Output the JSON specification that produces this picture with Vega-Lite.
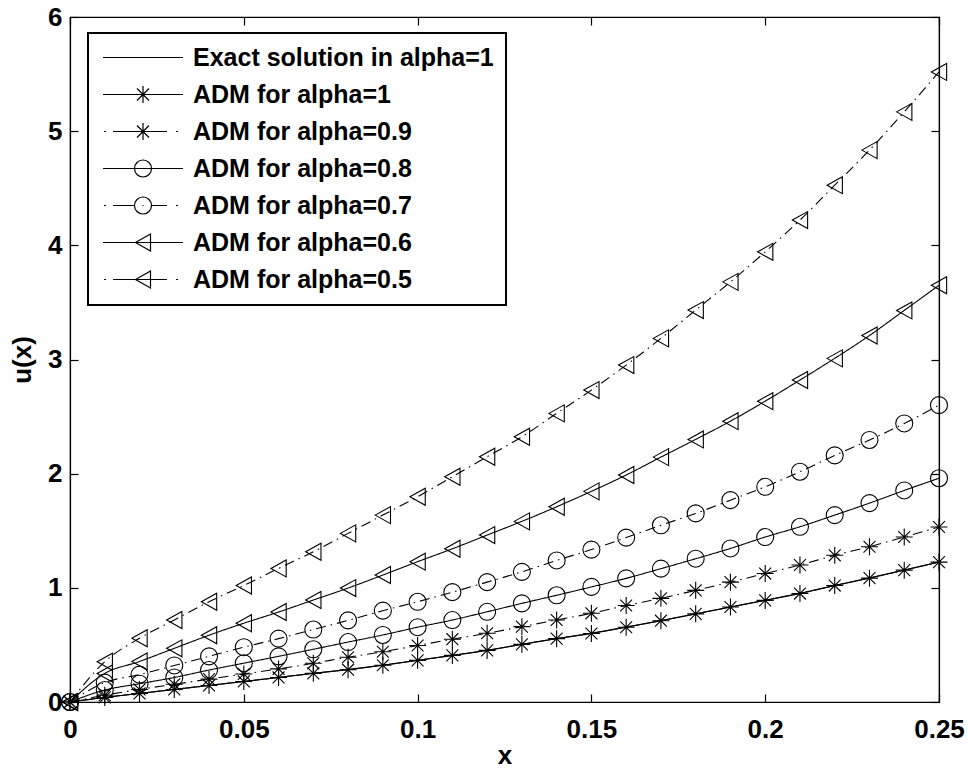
{
  "$schema": "https://vega.github.io/schema/vega-lite/v6.json",
  "width": 869,
  "height": 685,
  "autosize": "none",
  "padding": {"left": 70, "top": 17, "right": 29, "bottom": 69},
  "background": "white",
  "config": {
    "view": {"stroke": "black", "strokeWidth": 1.2},
    "axis": {
      "labelFont": "Liberation Sans", "labelFontSize": 26, "labelFontWeight": "bold", "labelColor": "black",
      "titleFont": "Liberation Sans", "titleFontSize": 26, "titleFontWeight": "bold", "titleColor": "black",
      "tickColor": "black", "domainColor": "black", "domainWidth": 1.2, "tickSize": -8, "tickWidth": 1.2,
      "grid": false, "labelFlush": false, "labelOverlap": false
    },
    "legend": {
      "orient": "none", "legendX": 18, "legendY": 16, "direction": "vertical",
      "symbolSize": 400, "symbolStrokeWidth": 1.2, "symbolStrokeColor": "black", "symbolFillColor": "transparent", "symbolOpacity": 1,
      "labelFont": "Liberation Sans", "labelFontSize": 25, "labelFontWeight": "bold", "labelColor": "black", "labelLimit": 500,
      "labelOffset": 68, "rowPadding": 11, "padding": 12, "strokeColor": "black", "strokeWidth": 2, "fillColor": "white"
    }
  },
  "datasets": {
    "d": [
      {"x": 0, "u": 0, "s": "Exact solution in alpha=1"},
      {"x": 0.01, "u": 0.04, "s": "Exact solution in alpha=1"},
      {"x": 0.02, "u": 0.075, "s": "Exact solution in alpha=1"},
      {"x": 0.03, "u": 0.11, "s": "Exact solution in alpha=1"},
      {"x": 0.04, "u": 0.145, "s": "Exact solution in alpha=1"},
      {"x": 0.05, "u": 0.18, "s": "Exact solution in alpha=1"},
      {"x": 0.06, "u": 0.215, "s": "Exact solution in alpha=1"},
      {"x": 0.07, "u": 0.251, "s": "Exact solution in alpha=1"},
      {"x": 0.08, "u": 0.285, "s": "Exact solution in alpha=1"},
      {"x": 0.09, "u": 0.323, "s": "Exact solution in alpha=1"},
      {"x": 0.10, "u": 0.365, "s": "Exact solution in alpha=1"},
      {"x": 0.11, "u": 0.408, "s": "Exact solution in alpha=1"},
      {"x": 0.12, "u": 0.453, "s": "Exact solution in alpha=1"},
      {"x": 0.13, "u": 0.505, "s": "Exact solution in alpha=1"},
      {"x": 0.14, "u": 0.555, "s": "Exact solution in alpha=1"},
      {"x": 0.15, "u": 0.603, "s": "Exact solution in alpha=1"},
      {"x": 0.16, "u": 0.657, "s": "Exact solution in alpha=1"},
      {"x": 0.17, "u": 0.713, "s": "Exact solution in alpha=1"},
      {"x": 0.18, "u": 0.772, "s": "Exact solution in alpha=1"},
      {"x": 0.19, "u": 0.832, "s": "Exact solution in alpha=1"},
      {"x": 0.20, "u": 0.892, "s": "Exact solution in alpha=1"},
      {"x": 0.21, "u": 0.953, "s": "Exact solution in alpha=1"},
      {"x": 0.22, "u": 1.02, "s": "Exact solution in alpha=1"},
      {"x": 0.23, "u": 1.087, "s": "Exact solution in alpha=1"},
      {"x": 0.24, "u": 1.156, "s": "Exact solution in alpha=1"},
      {"x": 0.25, "u": 1.226, "s": "Exact solution in alpha=1"},
      {"x": 0, "u": 0, "s": "ADM for alpha=1"},
      {"x": 0.01, "u": 0.04, "s": "ADM for alpha=1"},
      {"x": 0.02, "u": 0.075, "s": "ADM for alpha=1"},
      {"x": 0.03, "u": 0.11, "s": "ADM for alpha=1"},
      {"x": 0.04, "u": 0.145, "s": "ADM for alpha=1"},
      {"x": 0.05, "u": 0.18, "s": "ADM for alpha=1"},
      {"x": 0.06, "u": 0.215, "s": "ADM for alpha=1"},
      {"x": 0.07, "u": 0.251, "s": "ADM for alpha=1"},
      {"x": 0.08, "u": 0.283, "s": "ADM for alpha=1"},
      {"x": 0.09, "u": 0.322, "s": "ADM for alpha=1"},
      {"x": 0.10, "u": 0.365, "s": "ADM for alpha=1"},
      {"x": 0.11, "u": 0.408, "s": "ADM for alpha=1"},
      {"x": 0.12, "u": 0.452, "s": "ADM for alpha=1"},
      {"x": 0.13, "u": 0.505, "s": "ADM for alpha=1"},
      {"x": 0.14, "u": 0.555, "s": "ADM for alpha=1"},
      {"x": 0.15, "u": 0.60, "s": "ADM for alpha=1"},
      {"x": 0.16, "u": 0.655, "s": "ADM for alpha=1"},
      {"x": 0.17, "u": 0.712, "s": "ADM for alpha=1"},
      {"x": 0.18, "u": 0.772, "s": "ADM for alpha=1"},
      {"x": 0.19, "u": 0.832, "s": "ADM for alpha=1"},
      {"x": 0.20, "u": 0.89, "s": "ADM for alpha=1"},
      {"x": 0.21, "u": 0.95, "s": "ADM for alpha=1"},
      {"x": 0.22, "u": 1.02, "s": "ADM for alpha=1"},
      {"x": 0.23, "u": 1.085, "s": "ADM for alpha=1"},
      {"x": 0.24, "u": 1.155, "s": "ADM for alpha=1"},
      {"x": 0.25, "u": 1.225, "s": "ADM for alpha=1"},
      {"x": 0, "u": 0, "s": "ADM for alpha=0.9"},
      {"x": 0.01, "u": 0.06, "s": "ADM for alpha=0.9"},
      {"x": 0.02, "u": 0.11, "s": "ADM for alpha=0.9"},
      {"x": 0.03, "u": 0.155, "s": "ADM for alpha=0.9"},
      {"x": 0.04, "u": 0.2, "s": "ADM for alpha=0.9"},
      {"x": 0.05, "u": 0.245, "s": "ADM for alpha=0.9"},
      {"x": 0.06, "u": 0.29, "s": "ADM for alpha=0.9"},
      {"x": 0.07, "u": 0.339, "s": "ADM for alpha=0.9"},
      {"x": 0.08, "u": 0.392, "s": "ADM for alpha=0.9"},
      {"x": 0.09, "u": 0.44, "s": "ADM for alpha=0.9"},
      {"x": 0.10, "u": 0.495, "s": "ADM for alpha=0.9"},
      {"x": 0.11, "u": 0.55, "s": "ADM for alpha=0.9"},
      {"x": 0.12, "u": 0.602, "s": "ADM for alpha=0.9"},
      {"x": 0.13, "u": 0.66, "s": "ADM for alpha=0.9"},
      {"x": 0.14, "u": 0.718, "s": "ADM for alpha=0.9"},
      {"x": 0.15, "u": 0.777, "s": "ADM for alpha=0.9"},
      {"x": 0.16, "u": 0.845, "s": "ADM for alpha=0.9"},
      {"x": 0.17, "u": 0.908, "s": "ADM for alpha=0.9"},
      {"x": 0.18, "u": 0.978, "s": "ADM for alpha=0.9"},
      {"x": 0.19, "u": 1.05, "s": "ADM for alpha=0.9"},
      {"x": 0.20, "u": 1.125, "s": "ADM for alpha=0.9"},
      {"x": 0.21, "u": 1.2, "s": "ADM for alpha=0.9"},
      {"x": 0.22, "u": 1.285, "s": "ADM for alpha=0.9"},
      {"x": 0.23, "u": 1.36, "s": "ADM for alpha=0.9"},
      {"x": 0.24, "u": 1.445, "s": "ADM for alpha=0.9"},
      {"x": 0.25, "u": 1.533, "s": "ADM for alpha=0.9"},
      {"x": 0, "u": 0, "s": "ADM for alpha=0.8"},
      {"x": 0.01, "u": 0.105, "s": "ADM for alpha=0.8"},
      {"x": 0.02, "u": 0.16, "s": "ADM for alpha=0.8"},
      {"x": 0.03, "u": 0.215, "s": "ADM for alpha=0.8"},
      {"x": 0.04, "u": 0.28, "s": "ADM for alpha=0.8"},
      {"x": 0.05, "u": 0.34, "s": "ADM for alpha=0.8"},
      {"x": 0.06, "u": 0.4, "s": "ADM for alpha=0.8"},
      {"x": 0.07, "u": 0.462, "s": "ADM for alpha=0.8"},
      {"x": 0.08, "u": 0.525, "s": "ADM for alpha=0.8"},
      {"x": 0.09, "u": 0.587, "s": "ADM for alpha=0.8"},
      {"x": 0.10, "u": 0.655, "s": "ADM for alpha=0.8"},
      {"x": 0.11, "u": 0.718, "s": "ADM for alpha=0.8"},
      {"x": 0.12, "u": 0.79, "s": "ADM for alpha=0.8"},
      {"x": 0.13, "u": 0.864, "s": "ADM for alpha=0.8"},
      {"x": 0.14, "u": 0.935, "s": "ADM for alpha=0.8"},
      {"x": 0.15, "u": 1.008, "s": "ADM for alpha=0.8"},
      {"x": 0.16, "u": 1.083, "s": "ADM for alpha=0.8"},
      {"x": 0.17, "u": 1.168, "s": "ADM for alpha=0.8"},
      {"x": 0.18, "u": 1.255, "s": "ADM for alpha=0.8"},
      {"x": 0.19, "u": 1.345, "s": "ADM for alpha=0.8"},
      {"x": 0.20, "u": 1.445, "s": "ADM for alpha=0.8"},
      {"x": 0.21, "u": 1.535, "s": "ADM for alpha=0.8"},
      {"x": 0.22, "u": 1.637, "s": "ADM for alpha=0.8"},
      {"x": 0.23, "u": 1.742, "s": "ADM for alpha=0.8"},
      {"x": 0.24, "u": 1.853, "s": "ADM for alpha=0.8"},
      {"x": 0.25, "u": 1.96, "s": "ADM for alpha=0.8"},
      {"x": 0, "u": 0, "s": "ADM for alpha=0.7"},
      {"x": 0.01, "u": 0.17, "s": "ADM for alpha=0.7"},
      {"x": 0.02, "u": 0.24, "s": "ADM for alpha=0.7"},
      {"x": 0.03, "u": 0.32, "s": "ADM for alpha=0.7"},
      {"x": 0.04, "u": 0.4, "s": "ADM for alpha=0.7"},
      {"x": 0.05, "u": 0.48, "s": "ADM for alpha=0.7"},
      {"x": 0.06, "u": 0.555, "s": "ADM for alpha=0.7"},
      {"x": 0.07, "u": 0.635, "s": "ADM for alpha=0.7"},
      {"x": 0.08, "u": 0.715, "s": "ADM for alpha=0.7"},
      {"x": 0.09, "u": 0.8, "s": "ADM for alpha=0.7"},
      {"x": 0.10, "u": 0.878, "s": "ADM for alpha=0.7"},
      {"x": 0.11, "u": 0.962, "s": "ADM for alpha=0.7"},
      {"x": 0.12, "u": 1.05, "s": "ADM for alpha=0.7"},
      {"x": 0.13, "u": 1.14, "s": "ADM for alpha=0.7"},
      {"x": 0.14, "u": 1.24, "s": "ADM for alpha=0.7"},
      {"x": 0.15, "u": 1.335, "s": "ADM for alpha=0.7"},
      {"x": 0.16, "u": 1.44, "s": "ADM for alpha=0.7"},
      {"x": 0.17, "u": 1.548, "s": "ADM for alpha=0.7"},
      {"x": 0.18, "u": 1.652, "s": "ADM for alpha=0.7"},
      {"x": 0.19, "u": 1.768, "s": "ADM for alpha=0.7"},
      {"x": 0.20, "u": 1.885, "s": "ADM for alpha=0.7"},
      {"x": 0.21, "u": 2.017, "s": "ADM for alpha=0.7"},
      {"x": 0.22, "u": 2.16, "s": "ADM for alpha=0.7"},
      {"x": 0.23, "u": 2.295, "s": "ADM for alpha=0.7"},
      {"x": 0.24, "u": 2.44, "s": "ADM for alpha=0.7"},
      {"x": 0.25, "u": 2.6, "s": "ADM for alpha=0.7"},
      {"x": 0, "u": 0, "s": "ADM for alpha=0.6"},
      {"x": 0.01, "u": 0.25, "s": "ADM for alpha=0.6"},
      {"x": 0.02, "u": 0.355, "s": "ADM for alpha=0.6"},
      {"x": 0.03, "u": 0.47, "s": "ADM for alpha=0.6"},
      {"x": 0.04, "u": 0.585, "s": "ADM for alpha=0.6"},
      {"x": 0.05, "u": 0.69, "s": "ADM for alpha=0.6"},
      {"x": 0.06, "u": 0.788, "s": "ADM for alpha=0.6"},
      {"x": 0.07, "u": 0.893, "s": "ADM for alpha=0.6"},
      {"x": 0.08, "u": 0.998, "s": "ADM for alpha=0.6"},
      {"x": 0.09, "u": 1.112, "s": "ADM for alpha=0.6"},
      {"x": 0.10, "u": 1.229, "s": "ADM for alpha=0.6"},
      {"x": 0.11, "u": 1.342, "s": "ADM for alpha=0.6"},
      {"x": 0.12, "u": 1.462, "s": "ADM for alpha=0.6"},
      {"x": 0.13, "u": 1.582, "s": "ADM for alpha=0.6"},
      {"x": 0.14, "u": 1.71, "s": "ADM for alpha=0.6"},
      {"x": 0.15, "u": 1.845, "s": "ADM for alpha=0.6"},
      {"x": 0.16, "u": 1.988, "s": "ADM for alpha=0.6"},
      {"x": 0.17, "u": 2.145, "s": "ADM for alpha=0.6"},
      {"x": 0.18, "u": 2.30, "s": "ADM for alpha=0.6"},
      {"x": 0.19, "u": 2.46, "s": "ADM for alpha=0.6"},
      {"x": 0.20, "u": 2.635, "s": "ADM for alpha=0.6"},
      {"x": 0.21, "u": 2.82, "s": "ADM for alpha=0.6"},
      {"x": 0.22, "u": 3.01, "s": "ADM for alpha=0.6"},
      {"x": 0.23, "u": 3.21, "s": "ADM for alpha=0.6"},
      {"x": 0.24, "u": 3.43, "s": "ADM for alpha=0.6"},
      {"x": 0.25, "u": 3.65, "s": "ADM for alpha=0.6"},
      {"x": 0, "u": 0, "s": "ADM for alpha=0.5"},
      {"x": 0.01, "u": 0.353, "s": "ADM for alpha=0.5"},
      {"x": 0.02, "u": 0.558, "s": "ADM for alpha=0.5"},
      {"x": 0.03, "u": 0.718, "s": "ADM for alpha=0.5"},
      {"x": 0.04, "u": 0.878, "s": "ADM for alpha=0.5"},
      {"x": 0.05, "u": 1.02, "s": "ADM for alpha=0.5"},
      {"x": 0.06, "u": 1.17, "s": "ADM for alpha=0.5"},
      {"x": 0.07, "u": 1.316, "s": "ADM for alpha=0.5"},
      {"x": 0.08, "u": 1.477, "s": "ADM for alpha=0.5"},
      {"x": 0.09, "u": 1.637, "s": "ADM for alpha=0.5"},
      {"x": 0.10, "u": 1.798, "s": "ADM for alpha=0.5"},
      {"x": 0.11, "u": 1.973, "s": "ADM for alpha=0.5"},
      {"x": 0.12, "u": 2.148, "s": "ADM for alpha=0.5"},
      {"x": 0.13, "u": 2.323, "s": "ADM for alpha=0.5"},
      {"x": 0.14, "u": 2.528, "s": "ADM for alpha=0.5"},
      {"x": 0.15, "u": 2.732, "s": "ADM for alpha=0.5"},
      {"x": 0.16, "u": 2.951, "s": "ADM for alpha=0.5"},
      {"x": 0.17, "u": 3.185, "s": "ADM for alpha=0.5"},
      {"x": 0.18, "u": 3.433, "s": "ADM for alpha=0.5"},
      {"x": 0.19, "u": 3.68, "s": "ADM for alpha=0.5"},
      {"x": 0.20, "u": 3.943, "s": "ADM for alpha=0.5"},
      {"x": 0.21, "u": 4.221, "s": "ADM for alpha=0.5"},
      {"x": 0.22, "u": 4.527, "s": "ADM for alpha=0.5"},
      {"x": 0.23, "u": 4.834, "s": "ADM for alpha=0.5"},
      {"x": 0.24, "u": 5.169, "s": "ADM for alpha=0.5"},
      {"x": 0.25, "u": 5.519, "s": "ADM for alpha=0.5"}
    ]
  },
  "data": {"name": "d"},
  "layer": [
    {
      "mark": {"type": "line", "color": "black", "strokeWidth": 1.1, "interpolate": "monotone"},
      "encoding": {
        "x": {"field": "x", "type": "quantitative", "scale": {"domain": [0, 0.25], "nice": false, "zero": false},
              "axis": {"orient": "bottom", "values": [0, 0.05, 0.1, 0.15, 0.2, 0.25], "format": "~g", "title": "x", "labelPadding": 22, "titlePadding": 0}},
        "y": {"field": "u", "type": "quantitative", "scale": {"domain": [0, 6], "nice": false},
              "axis": {"orient": "left", "values": [0, 1, 2, 3, 4, 5, 6], "title": "u(x)", "labelPadding": 16, "titlePadding": 12}},
        "strokeDash": {"field": "s", "type": "nominal",
          "scale": {"domain": ["Exact solution in alpha=1", "ADM for alpha=1", "ADM for alpha=0.9", "ADM for alpha=0.8", "ADM for alpha=0.7", "ADM for alpha=0.6", "ADM for alpha=0.5"],
                    "range": [[1, 0], [1, 0], [10, 5, 1.5, 5], [1, 0], [10, 5, 1.5, 5], [1, 0], [10, 5, 1.5, 5]]},
          "legend": null}
      }
    },
    {
      "transform": [{"filter": "datum.s !== 'Exact solution in alpha=1'"}],
      "mark": {"type": "point", "filled": false, "color": "black", "strokeWidth": 1.1, "size": 289, "opacity": 1},
      "encoding": {
        "x": {"field": "x", "type": "quantitative", "axis": {"orient": "top", "values": [0, 0.05, 0.1, 0.15, 0.2, 0.25], "labels": false, "title": null}},
        "y": {"field": "u", "type": "quantitative", "axis": {"orient": "right", "values": [0, 1, 2, 3, 4, 5, 6], "labels": false, "title": null}},
        "shape": {"field": "s", "type": "nominal",
          "scale": {"domain": ["ADM for alpha=1", "ADM for alpha=0.9", "ADM for alpha=0.8", "ADM for alpha=0.7", "ADM for alpha=0.6", "ADM for alpha=0.5"],
                    "range": ["M-1,0L1,0M0,-1L0,1M-0.7,-0.7L0.7,0.7M-0.7,0.7L0.7,-0.7", "M-1,0L1,0M0,-1L0,1M-0.7,-0.7L0.7,0.7M-0.7,0.7L0.7,-0.7", "circle", "circle", "M-0.9,0L0.9,-1L0.9,1Z", "M-0.9,0L0.9,-1L0.9,1Z"]},
          "legend": null}
      }
    },
    {
      "mark": {"type": "point", "filled": false, "color": "black", "opacity": 0},
      "encoding": {
        "x": {"field": "x", "type": "quantitative", "axis": null},
        "y": {"field": "u", "type": "quantitative", "axis": null},
        "shape": {"field": "s", "type": "nominal",
          "scale": {"domain": ["Exact solution in alpha=1", "ADM for alpha=1", "ADM for alpha=0.9", "ADM for alpha=0.8", "ADM for alpha=0.7", "ADM for alpha=0.6", "ADM for alpha=0.5"],
                    "range": [
                      "M-0.95,0L7.05,0",
                      "M-0.95,0L7.05,0M3.05,-0.85L3.05,0.85M2.45,-0.6L3.65,0.6M2.45,0.6L3.65,-0.6",
                      "M-0.85,0L-0.65,0M0.05,0L5.45,0M6.35,0L6.55,0M3.05,-0.85L3.05,0.85M2.45,-0.6L3.65,0.6M2.45,0.6L3.65,-0.6",
                      "M-0.95,0L7.05,0M3.9,0A0.85,0.85 0 1 1 2.2,0A0.85,0.85 0 1 1 3.9,0",
                      "M-0.85,0L-0.65,0M0.05,0L2.2,0M3.9,0L5.45,0M6.35,0L6.55,0M3.9,0A0.85,0.85 0 1 1 2.2,0A0.85,0.85 0 1 1 3.9,0M3,0L3.1,0",
                      "M-0.95,0L7.05,0M2.3,0L3.8,-0.85L3.8,0.85Z",
                      "M-0.85,0L-0.65,0M0.05,0L5.45,0M6.35,0L6.55,0M2.3,0L3.8,-0.85L3.8,0.85Z"
                    ]},
          "legend": {"title": null}}
      }
    }
  ],
  "resolve": {"scale": {"shape": "independent"}, "axis": {"x": "independent", "y": "independent"}}
}
